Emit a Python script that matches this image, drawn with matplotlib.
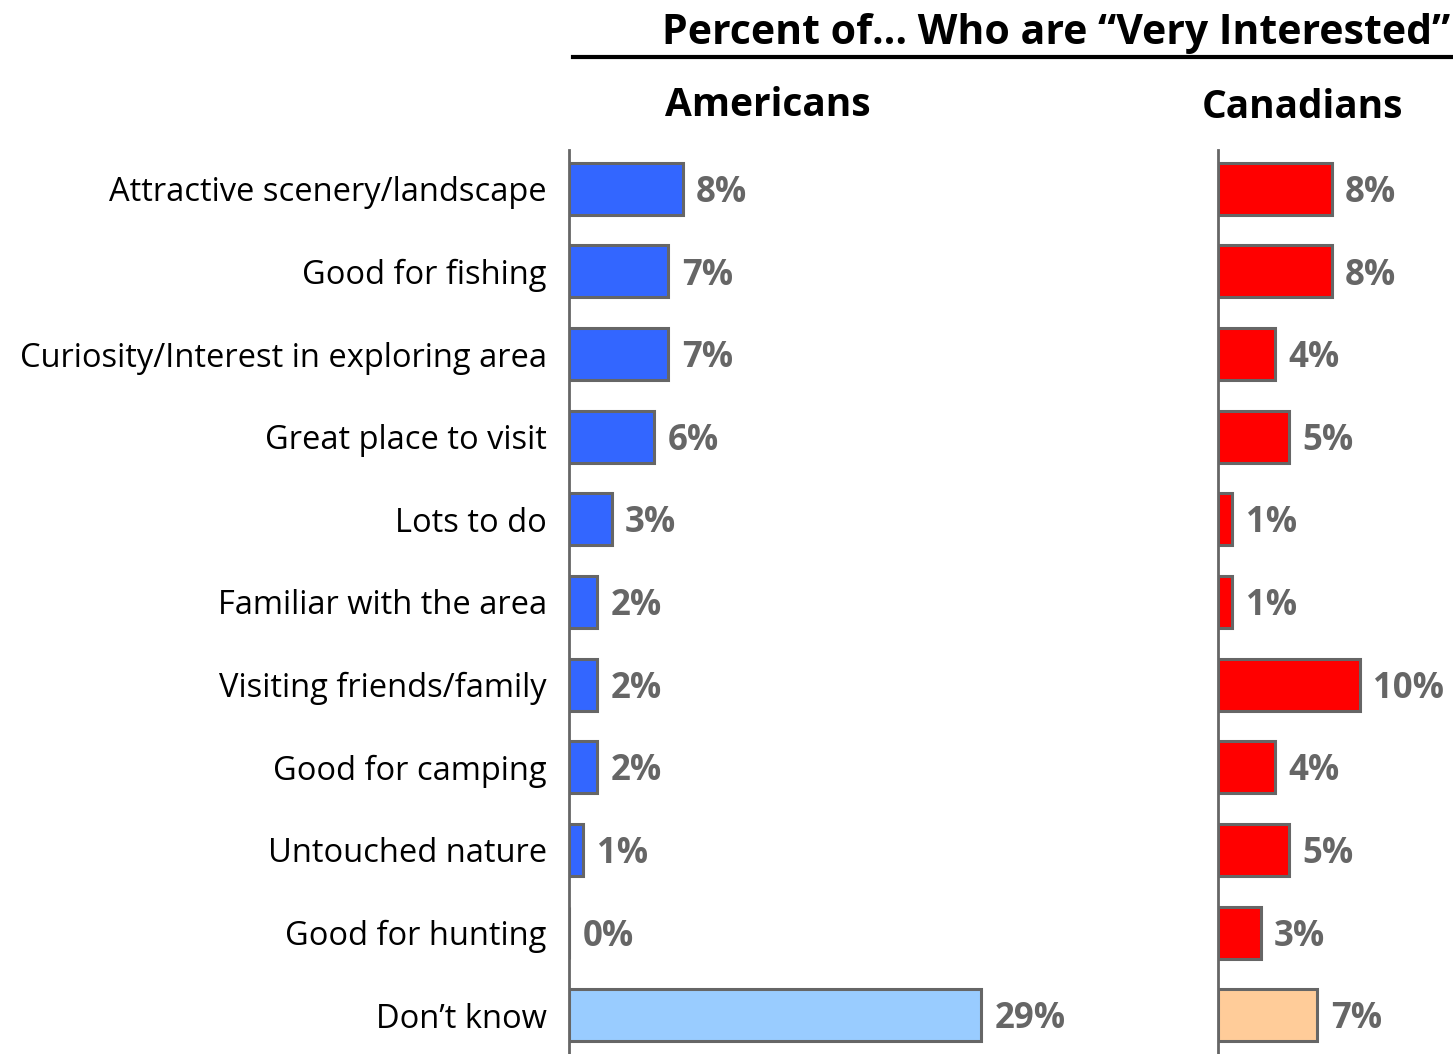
import matplotlib
matplotlib.use("Agg")
import matplotlib.pyplot as plt
from matplotlib.lines import Line2D

# Data
categories = [
    "Attractive scenery/landscape",
    "Good for fishing",
    "Curiosity/Interest in exploring area",
    "Great place to visit",
    "Lots to do",
    "Familiar with the area",
    "Visiting friends/family",
    "Good for camping",
    "Untouched nature",
    "Good for hunting",
    "Don\u2019t know",
]
americans = [8, 7, 7, 6, 3, 2, 2, 2, 1, 0, 29]
canadians = [8, 8, 4, 5, 1, 1, 10, 4, 5, 3, 7]

us_colors = ["#3366FF"] * 10 + ["#99CCFF"]
ca_colors = ["#FF0000"] * 10 + ["#FFCC99"]

plt.rcParams["font.family"] = ["Open Sans", "DejaVu Sans"]

fig = plt.figure(figsize=(14.53, 10.54), dpi=100)
W, H = 1453, 1054

ax_us = fig.add_axes([569 / W, 0, 568 / W, 904 / H])
ax_ca = fig.add_axes([1218 / W, 0, 227 / W, 904 / H])

y = list(range(len(categories)))


def draw_panel(ax, values, colors, xmax):
    ax.barh(y, values, height=0.63, color=colors, edgecolor="#666666",
            linewidth=2.2, zorder=3)
    for yi, v in zip(y, values):
        ax.text(v + 0.95, yi + 0.05, f"{v}%", va="center", ha="left",
                fontsize=25, fontweight="bold", color="#666666",
                clip_on=False)
    ax.set_xlim(0, xmax)
    ax.set_ylim(len(categories) - 0.53, -0.47)
    for s in ["top", "right", "bottom"]:
        ax.spines[s].set_visible(False)
    ax.spines["left"].set_color("#666666")
    ax.spines["left"].set_linewidth(2)
    ax.set_xticks([])
    ax.tick_params(axis="y", length=0)


draw_panel(ax_us, americans, us_colors, 40)
draw_panel(ax_ca, canadians, ca_colors, 16)

ax_us.set_yticks(y)
ax_us.set_yticklabels(categories, fontsize=23.5)
ax_us.tick_params(axis="y", pad=16)
ax_ca.set_yticks([])

# Headings
fig.text(1450 / W, 1 - 34 / H, "Percent of\u2026 Who are \u201cVery Interested\u201d",
         ha="right", va="center", fontsize=29.5, fontweight="bold")
fig.add_artist(Line2D([573 / W, 1.0], [1 - 57 / H, 1 - 57 / H],
                      color="black", linewidth=3))
fig.text(768 / W, 1 - 105 / H, "Americans", ha="center", va="center",
         fontsize=28, fontweight="bold")
fig.text(1302 / W, 1 - 108 / H, "Canadians", ha="center", va="center",
         fontsize=28, fontweight="bold")

fig.savefig("out.png", dpi=100)
